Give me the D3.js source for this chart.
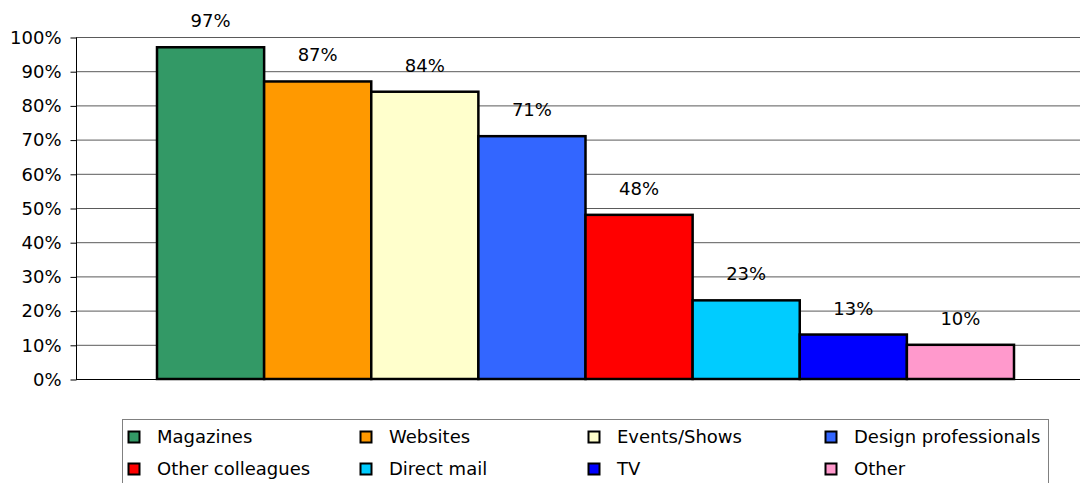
<!DOCTYPE html>
<html>
<head>
<meta charset="utf-8">
<script src="https://cdn.jsdelivr.net/npm/d3@7"></script>
<style>
  html, body { margin: 0; padding: 0; background: #fff; }
  svg { display: block; font-family: "DejaVu Sans", sans-serif; }
</style>
</head>
<body>
<svg id="chart" width="1080" height="483"></svg>
<script>
// Sources of information, share of respondents (%)
const categories = ["Magazines", "Websites", "Events/Shows", "Design professionals",
                    "Other colleagues", "Direct mail", "TV", "Other"];
const values = [97, 87, 84, 71, 48, 23, 13, 10];
const colors = ["#339966", "#FF9900", "#FFFFCC", "#3366FF",
                "#FF0000", "#00CCFF", "#0000FF", "#FF99CC"];
const yTicks = [0, 10, 20, 30, 40, 50, 60, 70, 80, 90, 100];

const FONT = "'DejaVu Sans', sans-serif";
const FONT_SIZE = "18px";

const svg = d3.select("#chart");

const plot = { left: 76, right: 1095, top: 37, bottom: 379 };

const y = d3.scaleLinear().domain([0, 100]).range([plot.bottom, plot.top]);
const x = d3.scaleBand()
  .domain(categories)
  .range([157, 1014])
  .paddingInner(0)
  .paddingOuter(0);

// horizontal gridlines
svg.append("g")
  .selectAll("line")
  .data(yTicks.filter(d => d > 0))
  .join("line")
  .attr("x1", plot.left)
  .attr("x2", 1080)
  .attr("y1", d => y(d) + 0.5)
  .attr("y2", d => y(d) + 0.5)
  .attr("stroke", "#5a5a5a")
  .attr("stroke-width", 1);

// y axis
const yAxis = d3.axisLeft(y)
  .tickValues(yTicks)
  .tickSize(6)
  .tickPadding(9)
  .tickFormat(d => d + "%");

const gy = svg.append("g")
  .attr("transform", `translate(${plot.left + 0.5},0.5)`)
  .call(yAxis);
gy.select(".domain").attr("stroke", "#000").attr("d", `M0,${plot.top}V${plot.bottom}`);
gy.selectAll(".tick line").attr("stroke", "#000");
gy.selectAll(".tick text")
  .attr("fill", "#000")
  .style("font-size", FONT_SIZE)
  .style("font-family", FONT);

// baseline
svg.append("line")
  .attr("x1", plot.left)
  .attr("x2", 1080)
  .attr("y1", plot.bottom + 0.5)
  .attr("y2", plot.bottom + 0.5)
  .attr("stroke", "#000");

// bars
svg.append("g")
  .selectAll("rect")
  .data(values)
  .join("rect")
  .attr("x", (d, i) => x(categories[i]))
  .attr("y", d => y(d))
  .attr("width", x.bandwidth())
  .attr("height", d => y(0) - y(d))
  .attr("fill", (d, i) => colors[i])
  .attr("stroke", "#000")
  .attr("stroke-width", 2.5);

// value labels
svg.append("g")
  .selectAll("text")
  .data(values)
  .join("text")
  .attr("x", (d, i) => x(categories[i]) + x.bandwidth() / 2)
  .attr("y", d => y(d) - 20)
  .attr("text-anchor", "middle")
  .style("font-size", FONT_SIZE)
  .attr("fill", "#000")
  .text(d => d + "%");

// legend
const legend = svg.append("g");
legend.append("rect")
  .attr("x", 122.5)
  .attr("y", 419.5)
  .attr("width", 926)
  .attr("height", 80)
  .attr("fill", "#fff")
  .attr("stroke", "#808080")
  .attr("stroke-width", 1);

const colX = [128, 360, 588, 825];
const rowY = [437, 469];
const items = legend.selectAll("g.item")
  .data(categories)
  .join("g")
  .attr("class", "item")
  .attr("transform", (d, i) => `translate(${colX[i % 4]},${rowY[Math.floor(i / 4)]})`);

items.append("rect")
  .attr("x", 0.5)
  .attr("y", -5.5)
  .attr("width", 11)
  .attr("height", 11)
  .attr("fill", (d, i) => colors[i])
  .attr("stroke", "#000")
  .attr("stroke-width", 2);

items.append("text")
  .attr("x", 29)
  .attr("y", 0)
  .attr("dy", "0.35em")
  .style("font-size", FONT_SIZE)
  .attr("fill", "#000")
  .text(d => d);
</script>
</body>
</html>
